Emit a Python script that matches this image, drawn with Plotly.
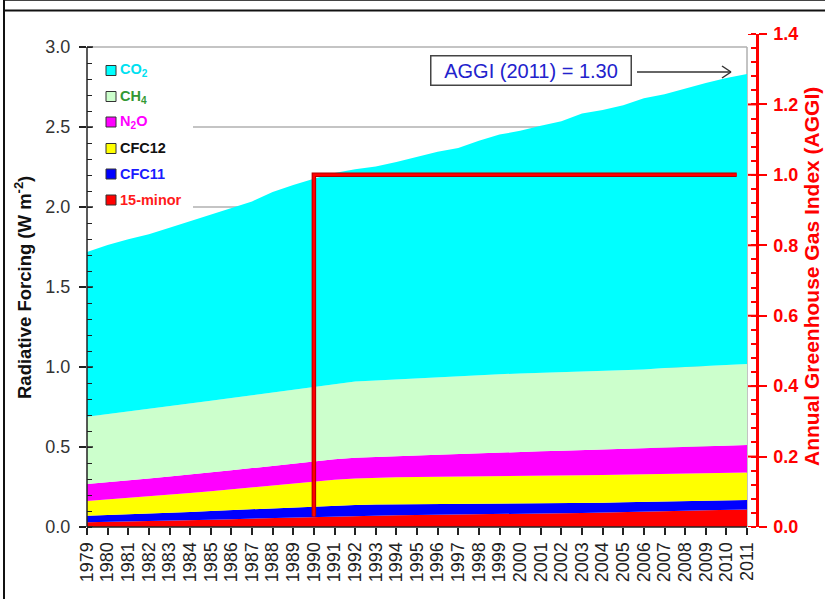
import plotly.graph_objects as go

# ---------------- data (W m^-2) ----------------
years = list(range(1979, 2012))
co2 = [1.030, 1.058, 1.077, 1.090, 1.115, 1.140, 1.162, 1.184, 1.211, 1.250, 1.276, 1.297,
       1.316, 1.327, 1.337, 1.358, 1.385, 1.412, 1.428, 1.467, 1.498, 1.517, 1.545, 1.568,
       1.610, 1.631, 1.656, 1.695, 1.712, 1.742, 1.768, 1.794, 1.813]
ch4 = [0.420, 0.426, 0.432, 0.437, 0.441, 0.444, 0.448, 0.452, 0.456, 0.460, 0.464, 0.467,
       0.472, 0.476, 0.477, 0.479, 0.481, 0.482, 0.483, 0.487, 0.490, 0.490, 0.490, 0.491,
       0.493, 0.492, 0.492, 0.493, 0.496, 0.499, 0.502, 0.505, 0.507]
n2o = [0.106, 0.107, 0.109, 0.111, 0.113, 0.115, 0.117, 0.119, 0.120, 0.122, 0.124, 0.126,
       0.128, 0.130, 0.131, 0.133, 0.135, 0.138, 0.141, 0.144, 0.147, 0.150, 0.152, 0.155,
       0.157, 0.159, 0.161, 0.163, 0.165, 0.167, 0.169, 0.171, 0.172]
cfc12 = [0.092, 0.097, 0.102, 0.108, 0.113, 0.118, 0.124, 0.130, 0.136, 0.143, 0.150, 0.156,
         0.161, 0.165, 0.168, 0.170, 0.171, 0.172, 0.173, 0.173, 0.173, 0.173, 0.173, 0.173,
         0.173, 0.173, 0.172, 0.172, 0.172, 0.171, 0.171, 0.171, 0.171]
cfc11 = [0.041, 0.043, 0.045, 0.047, 0.049, 0.051, 0.054, 0.057, 0.060, 0.062, 0.064, 0.066,
         0.067, 0.067, 0.067, 0.067, 0.066, 0.066, 0.066, 0.065, 0.065, 0.064, 0.064, 0.063,
         0.063, 0.062, 0.062, 0.061, 0.061, 0.060, 0.060, 0.059, 0.059]
minor15 = [0.030, 0.032, 0.034, 0.037, 0.040, 0.043, 0.046, 0.049, 0.052, 0.056, 0.060, 0.064,
           0.068, 0.071, 0.073, 0.074, 0.075, 0.076, 0.077, 0.078, 0.080, 0.082, 0.084, 0.086,
           0.088, 0.090, 0.093, 0.096, 0.099, 0.102, 0.105, 0.107, 0.110]

# AGGI reference step (1990 = 1.0)
aggi_x = [1990, 1990, 2010.5]
aggi_y = [0.03, 1.0, 1.0]

series_names = ["15-minor", "CFC11", "CFC12", "N<sub>2</sub>O", "CH<sub>4</sub>", "CO<sub>2</sub>"]
series_vals = [minor15, cfc11, cfc12, n2o, ch4, co2]
fill_colors = ["#ff0000", "#0000ff", "#ffff00", "#ff00ff", "#ccffcc", "#00ffff"]
text_colors = ["#ff1a1a", "#1a1aff", "#111111", "#ff00ff", "#339933", "#00e0f0"]

x_ticks = years
x_ticktext = [str(y) for y in years]
left_ticks = [0, 0.5, 1.0, 1.5, 2.0, 2.5, 3.0]
right_ticks = [0, 0.2, 0.4, 0.6, 0.8, 1.0, 1.2, 1.4]

# ---------------- geometry ----------------
FW, FH = 825, 599
L, R, T, B = 87, 756, 34, 527
W, H = R - L, B - T


def pxx(px):
    return (px - L) / W


def pxy(py):
    return (B - py) / H


FONT = "Liberation Sans, Arial, sans-serif"

fig = go.Figure()
for name, vals, fc in zip(series_names, series_vals, fill_colors):
    fig.add_trace(go.Scatter(x=years, y=vals, name=name, stackgroup="one",
                             mode="lines", line=dict(width=0, color=fc),
                             fillcolor=fc, showlegend=False, hoverinfo="skip"))

fig.add_trace(go.Scatter(x=aggi_x, y=aggi_y, yaxis="y2", mode="lines",
                         line=dict(color="#b00000", width=4.5), showlegend=False))
fig.add_trace(go.Scatter(x=aggi_x, y=aggi_y, yaxis="y2", mode="lines",
                         line=dict(color="#ff0000", width=2.5), showlegend=False))

shapes = []
# grid lines (below data)
for v in left_ticks[1:]:
    x0 = 1979 if v == 3.0 else 1979 + (193 - L) / (W / (2011.436 - 1979))
    shapes.append(dict(type="line", xref="x", yref="y", x0=x0, x1=2011, y0=v, y1=v,
                       line=dict(color="#b0b0b0", width=1.5), layer="below"))
shapes.append(dict(type="line", xref="x", yref="y", x0=2011, x1=2011, y0=0, y1=3.0,
                   line=dict(color="#b0b0b0", width=1.5), layer="below"))
# left axis line and x axis line
shapes.append(dict(type="line", xref="paper", yref="y", x0=0, x1=0, y0=0, y1=3.0,
                   line=dict(color="#222222", width=1.5)))
shapes.append(dict(type="line", xref="x", yref="paper", x0=1979, x1=2011, y0=0, y1=0,
                   line=dict(color="#222222", width=1.5)))
# inside halves of major ticks (crossing ticks)
for v in left_ticks:
    shapes.append(dict(type="line", xref="paper", yref="y", x0=0, x1=pxx(L + 6), y0=v, y1=v,
                       line=dict(color="#222222", width=1.5)))
for v in right_ticks:
    shapes.append(dict(type="line", xref="paper", yref="y2", x0=pxx(R - 8), x1=1, y0=v, y1=v,
                       line=dict(color="#ff0000", width=2)))

# legend squares
leg_y = [70.5, 96.5, 122, 148.5, 174, 200]
for i, (fc, cy) in enumerate(zip(fill_colors[::-1], leg_y)):
    shapes.append(dict(type="rect", xref="paper", yref="paper",
                       x0=pxx(106), x1=pxx(116), y0=pxy(cy - 5), y1=pxy(cy + 5),
                       fillcolor=fc, line=dict(color="#333333", width=1)))

# arrow from AGGI box to 2011 value
ax0, ax1, ay = 637, 731, 72
shapes.append(dict(type="line", xref="paper", yref="paper", x0=pxx(ax0), x1=pxx(ax1),
                   y0=pxy(ay), y1=pxy(ay), line=dict(color="#333333", width=1.5)))
for dy in (-6, 6):
    shapes.append(dict(type="line", xref="paper", yref="paper", x0=pxx(ax1 - 9), x1=pxx(ax1),
                       y0=pxy(ay + dy), y1=pxy(ay), line=dict(color="#333333", width=1.5)))

# outer frame
shapes.append(dict(type="line", xref="paper", yref="paper", x0=pxx(3), x1=pxx(FW),
                   y0=pxy(0.5), y1=pxy(0.5), line=dict(color="#444444", width=1)))
shapes.append(dict(type="line", xref="paper", yref="paper", x0=pxx(3), x1=pxx(FW),
                   y0=pxy(10.5), y1=pxy(10.5), line=dict(color="#111111", width=2)))
shapes.append(dict(type="line", xref="paper", yref="paper", x0=pxx(4), x1=pxx(4),
                   y0=pxy(0), y1=pxy(FH), line=dict(color="#111111", width=2)))

annotations = []
for name, tc, cy in zip(series_names[::-1], text_colors[::-1], leg_y):
    annotations.append(dict(xref="paper", yref="paper", x=pxx(118), y=pxy(cy),
                            xanchor="left", yanchor="middle", showarrow=False,
                            text="<b>" + name + "</b>",
                            font=dict(family=FONT, size=14.5, color=tc)))
annotations.append(dict(xref="paper", yref="paper", x=pxx(530.5), y=pxy(70),
                        xanchor="center", yanchor="middle", showarrow=False,
                        text="AGGI (2011) = 1.30", width=197, height=26,
                        bordercolor="#444444", borderwidth=1.5, borderpad=1,
                        bgcolor="white",
                        font=dict(family=FONT, size=20, color="#2222cc")))
annotations.append(dict(xref="paper", yref="paper", x=pxx(23), y=pxy(288),
                        xanchor="center", yanchor="middle", showarrow=False,
                        textangle=-90,
                        text="<b>Radiative Forcing (W m<sup>-2</sup>)</b>",
                        font=dict(family=FONT, size=18.5, color="#111111")))
annotations.append(dict(xref="paper", yref="paper", x=pxx(811), y=pxy(277),
                        xanchor="center", yanchor="middle", showarrow=False,
                        textangle=-90,
                        text="<b>Annual Greenhouse Gas Index (AGGI)</b>",
                        font=dict(family=FONT, size=21, color="#ff0000")))

fig.update_layout(
    width=FW, height=FH,
    margin=dict(l=L, r=FW - R, t=T, b=FH - B, pad=0),
    paper_bgcolor="white", plot_bgcolor="white",
    showlegend=False,
    xaxis=dict(range=[1979, 2011.436], tickvals=x_ticks, ticktext=x_ticktext,
               tickangle=-90, ticks="outside", ticklen=7, tickwidth=1.5,
               tickcolor="#222222", showgrid=False, zeroline=False, showline=False,
               tickfont=dict(family=FONT, size=18, color="#222222")),
    yaxis=dict(range=[0, H / 160.0], tickvals=left_ticks, tickformat=".1f",
               ticks="outside", ticklen=7, tickwidth=1.5, tickcolor="#222222",
               showgrid=False, zeroline=False, showline=False,
               ticklabelstandoff=5,
               minor=dict(dtick=0.1, tick0=0, ticks="inside", ticklen=5,
                          tickwidth=1.2, tickcolor="#222222", showgrid=False),
               tickfont=dict(family=FONT, size=18, color="#333333")),
    yaxis2=dict(range=[0, 1.4], overlaying="y", side="right", tickvals=right_ticks,
                tickformat=".1f", ticks="outside", ticklen=8, tickwidth=2,
                tickcolor="#ff0000", showline=True, linecolor="#ff0000", linewidth=2.5,
                showgrid=False, zeroline=False, ticklabelstandoff=3,
                minor=dict(dtick=0.04, tick0=0, ticks="inside", ticklen=5,
                           tickwidth=1.5, tickcolor="#ff0000", showgrid=False),
                tickfont=dict(family=FONT, size=18, color="#ff0000", weight="bold")),
    shapes=shapes,
    annotations=annotations,
)

fig.write_html("out.html", config={"displayModeBar": False},
               post_script="document.body.style.margin='0';")
